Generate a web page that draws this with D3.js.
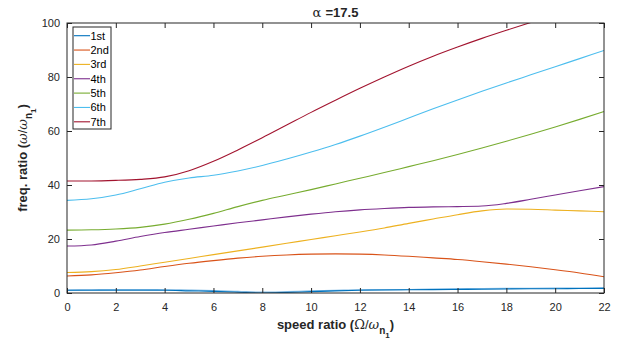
<!DOCTYPE html>
<html>
<head>
<meta charset="utf-8">
<title>alpha = 17.5</title>
<script src="https://d3js.org/d3.v7.min.js"></script>
<style>
body { margin: 0; background: #fff; }
text { font-family: 'Liberation Sans', Arial, sans-serif; fill: #262626; }
.tick text { font-size: 11px; }
.lbl { font-size: 13px; font-weight: bold; }
.sym { font-family: 'DejaVu Serif', serif; font-weight: normal; font-style: italic; }
</style>
</head>
<body>
<div id="my_dataviz"></div>
<script>
// speed ratio samples
var speed = [0,1,2,3,4,5,6,7,8,9,10,11,12,13,14,15,16,17,18,19,20,21,22];

// frequency ratios for each mode
var mode1 = [1.0,1.0,1.0,1.0,1.0,0.8,0.6,0.3,0.0,0.2,0.5,0.8,1.0,1.1,1.2,1.25,1.3,1.4,1.5,1.55,1.6,1.65,1.7];
var mode1b = [1.1,1.2,1.3,1.3,1.2,1.1,0.9,0.6,0.3,0.5,0.8,1.0,1.2,1.25,1.3,1.45,1.6,1.65,1.7,1.75,1.8,1.85,1.9];
var mode2 = [6.3,6.7,7.5,8.5,9.8,11.0,12.0,12.9,13.6,14.1,14.4,14.5,14.4,14.1,13.6,13.0,12.4,11.6,10.7,9.7,8.6,7.4,6.0];
var mode3 = [7.6,7.9,8.7,10.0,11.4,12.8,14.2,15.6,17.0,18.4,19.8,21.2,22.6,24.1,25.8,27.4,29.0,30.4,31.1,31.0,30.7,30.4,30.1];
var mode4 = [17.4,17.8,19.2,20.9,22.4,23.6,24.8,26.0,27.1,28.2,29.2,30.1,30.8,31.3,31.7,31.9,32.0,32.2,33.2,34.7,36.3,37.9,39.4];
var mode5 = [23.3,23.4,23.7,24.3,25.5,27.3,29.5,32.0,34.3,36.3,38.3,40.4,42.5,44.6,46.8,49.0,51.3,53.7,56.2,58.8,61.5,64.3,67.2];
var mode6 = [34.3,34.9,36.3,38.6,41.0,42.6,43.6,45.2,47.2,49.6,52.2,55.0,58.1,61.4,64.8,68.2,71.5,74.7,77.8,80.8,83.8,86.8,89.8];
var mode7 = [41.5,41.5,41.7,42.1,43.0,45.3,48.8,53.0,57.5,62.2,66.9,71.4,75.8,80.0,84.0,87.7,91.1,94.3,97.3,100.2,103.0,105.7,108.3];

var names = ["1st","2nd","3rd","4th","5th","6th","7th"];
var colors = ["#0072BD","#D95319","#EDB120","#7E2F8E","#77AC30","#4DBEEE","#A2142F"];
var xTicks = [0,2,4,6,8,10,12,14,16,18,20,22];
var yTicks = [0,20,40,60,80,100];

var margin = {top: 23, right: 15, bottom: 50, left: 67},
    width = 619 - margin.left - margin.right,
    height = 343 - margin.top - margin.bottom;

var svgRoot = d3.select("#my_dataviz")
  .append("svg")
  .attr("width", 619)
  .attr("height", 343);

var svg = svgRoot.append("g")
  .attr("transform", "translate(" + margin.left + "," + margin.top + ")");

var x = d3.scaleLinear().domain([0, 22]).range([0, width]);
var y = d3.scaleLinear().domain([0, 100]).range([height, 0]);

svg.append("clipPath").attr("id", "clip")
  .append("rect").attr("width", width).attr("height", height);

var line = d3.line()
  .x(function(d, i) { return x(speed[i]); })
  .y(function(d) { return y(d); })
  .curve(d3.curveMonotoneX);

var plot = svg.append("g").attr("clip-path", "url(#clip)");

// faint companion of the first mode
plot.append("path")
  .attr("d", line(mode1b))
  .style("fill", "none")
  .style("stroke", "#7db8e3")
  .style("stroke-width", 1.2);

var modes = [mode1, mode2, mode3, mode4, mode5, mode6, mode7];
plot.selectAll("myPath")
  .data(modes)
  .enter()
  .append("path")
    .attr("d", line)
    .style("fill", "none")
    .style("stroke", function(d, i) { return colors[i]; })
    .style("stroke-width", 1.1);

// axes with ticks pointing in, on all four sides
function styleAxis(g) {
  g.select(".domain").remove();
  g.selectAll(".tick line").attr("stroke", "#262626");
}
svg.append("g")
  .attr("transform", "translate(0," + height + ")")
  .call(d3.axisBottom(x).tickValues(xTicks).tickSizeInner(-5).tickSizeOuter(0).tickPadding(10))
  .call(styleAxis);
svg.append("g")
  .call(d3.axisTop(x).tickValues(xTicks).tickSizeInner(-5).tickSizeOuter(0).tickFormat(""))
  .call(styleAxis);
svg.append("g")
  .call(d3.axisLeft(y).tickValues(yTicks).tickSizeInner(-5).tickSizeOuter(0).tickPadding(7))
  .call(styleAxis);
svg.append("g")
  .attr("transform", "translate(" + width + ",0)")
  .call(d3.axisRight(y).tickValues(yTicks).tickSizeInner(-5).tickSizeOuter(0).tickFormat(""))
  .call(styleAxis);
svg.selectAll(".tick text").style("fill", "#262626").style("font-size", "11px");

svg.append("rect")
  .attr("width", width)
  .attr("height", height)
  .style("fill", "none")
  .style("stroke", "#262626")
  .style("stroke-width", 1);

// legend
var legend = svg.append("g").attr("transform", "translate(6,4)");
legend.append("rect")
  .attr("width", 38)
  .attr("height", 102)
  .style("fill", "white")
  .style("stroke", "#262626")
  .style("stroke-width", 1);
var items = legend.selectAll("myLegend")
  .data(names)
  .enter()
  .append("g")
  .attr("transform", function(d, i) { return "translate(0," + (8.7 + i * 14.35) + ")"; });
items.append("line")
  .attr("x1", 1).attr("x2", 17)
  .style("stroke", function(d, i) { return colors[i]; })
  .style("stroke-width", 1.1);
items.append("text")
  .attr("x", 17.5)
  .attr("y", 4)
  .style("font-size", "11px")
  .style("fill", "#000")
  .text(function(d) { return d; });

// title
var title = svgRoot.append("text")
  .attr("x", margin.left + width / 2)
  .attr("y", 17)
  .attr("text-anchor", "middle")
  .attr("class", "lbl");
title.append("tspan").attr("class", "sym").style("font-style", "normal").text("\u03B1 ");
title.append("tspan").text("=17.5");

// x label
var xl = svgRoot.append("text")
  .attr("x", margin.left + width / 2)
  .attr("y", 329)
  .attr("text-anchor", "middle")
  .attr("class", "lbl");
xl.append("tspan").text("speed ratio (");
xl.append("tspan").attr("class", "sym").style("font-style", "normal").text("\u03A9");
xl.append("tspan").style("font-weight", "normal").text("/");
xl.append("tspan").attr("class", "sym").text("\u03C9");
xl.append("tspan").attr("dy", 5).style("font-size", "10px").text("n");
xl.append("tspan").attr("dy", 4).style("font-size", "8px").text("1");
xl.append("tspan").attr("dy", -9).text(")");

// y label
var yl = svgRoot.append("text")
  .attr("transform", "rotate(-90)")
  .attr("x", -(margin.top + height / 2))
  .attr("y", 27)
  .attr("text-anchor", "middle")
  .attr("class", "lbl");
yl.append("tspan").text("freq. ratio (");
yl.append("tspan").attr("class", "sym").text("\u03C9");
yl.append("tspan").style("font-weight", "normal").text("/");
yl.append("tspan").attr("class", "sym").text("\u03C9");
yl.append("tspan").attr("dy", 5).style("font-size", "10px").text("n");
yl.append("tspan").attr("dy", 4).style("font-size", "8px").text("1");
yl.append("tspan").attr("dy", -9).text(")");
</script>
</body>
</html>
